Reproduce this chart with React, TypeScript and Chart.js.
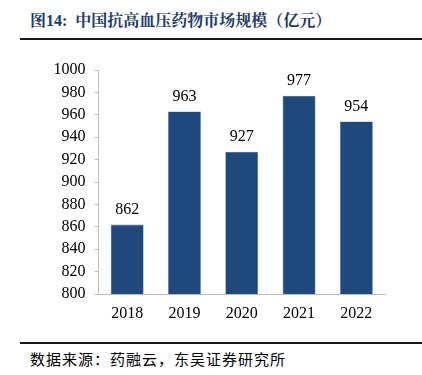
import React, { useEffect, useRef } from "react";
import { Chart, registerables } from "chart.js";

Chart.register(...registerables);

const categories = ["2018", "2019", "2020", "2021", "2022"];
const marketSize = [862, 963, 927, 977, 954];
const yTicks = [800, 820, 840, 860, 880, 900, 920, 940, 960, 980, 1000];

const titleText = "图14:  中国抗高血压药物市场规模（亿元）";
const sourceText = "数据来源：药融云，东吴证券研究所";

const SERIF = '"Liberation Serif", "Times New Roman", serif';

const valueLabels = {
  id: "valueLabels",
  afterDatasetsDraw(chart: any) {
    const ctx = chart.ctx;
    const meta = chart.getDatasetMeta(0);
    ctx.save();
    ctx.font = `16px ${SERIF}`;
    ctx.fillStyle = "#000000";
    ctx.textAlign = "center";
    ctx.textBaseline = "middle";
    meta.data.forEach((bar: any, i: number) => {
      ctx.fillText(String(chart.data.datasets[0].data[i]), bar.x, bar.y - 15);
    });
    ctx.restore();
  },
};

function BarChart() {
  const ref = useRef<HTMLCanvasElement | null>(null);
  useEffect(() => {
    if (!ref.current) return;
    const chart = new Chart(ref.current, {
      type: "bar",
      data: {
        labels: categories,
        datasets: [
          {
            data: marketSize,
            backgroundColor: "#1f497d",
            borderColor: "#5a7aa6",
            borderWidth: 0.6,
            categoryPercentage: 1,
            barPercentage: 0.575,
          },
        ],
      },
      options: {
        animation: false,
        responsive: false,
        maintainAspectRatio: false,
        layout: { padding: { left: 0, right: 37, top: 20, bottom: 5 } },
        plugins: { legend: { display: false }, tooltip: { enabled: false } },
        scales: {
          x: {
            grid: { display: false, drawTicks: false },
            border: { display: true, color: "#bfbfbf", width: 1 },
            ticks: {
              color: "#000000",
              font: { family: SERIF, size: 16 },
              padding: 10,
            },
            afterFit: (s: any) => {
              s.height = 31;
            },
          },
          y: {
            min: 800,
            max: 1000,
            afterBuildTicks: (s: any) => {
              s.ticks = yTicks.map((v) => ({ value: v }));
            },
            grid: {
              drawOnChartArea: false,
              drawTicks: true,
              tickLength: 4,
              color: "#bfbfbf",
            },
            border: { display: true, color: "#bfbfbf", width: 1 },
            ticks: {
              color: "#000000",
              font: { family: SERIF, size: 16 },
              padding: 9,
              callback: (v: any) => String(v),
            },
            afterFit: (s: any) => {
              s.width = 98.5;
            },
          },
        },
      },
      plugins: [valueLabels],
    });
    return () => chart.destroy();
  }, []);
  return <canvas ref={ref} width={422} height={280} style={{ display: "block", width: 422, height: 280 }} />;
}

export default function App() {
  return (
    <div
      style={{
        position: "absolute",
        left: 0,
        top: 0,
        width: 422,
        height: 375,
        background: "#ffffff",
        overflow: "hidden",
      }}
    >
      <div
        style={{
          position: "absolute",
          left: 30,
          top: 11,
          fontFamily: '"Liberation Serif", "Noto Serif CJK SC", "Noto Sans CJK SC", serif',
          fontWeight: "bold",
          fontSize: 16,
          lineHeight: "20px",
          color: "#1f3a68",
          whiteSpace: "pre",
        }}
      >
        {titleText}
      </div>
      <div
        style={{
          position: "absolute",
          left: 20,
          right: 0,
          top: 38,
          height: 1.5,
          background: "#1a1a1a",
        }}
      />
      <div style={{ position: "absolute", left: 0, top: 50 }}>
        <BarChart />
      </div>
      <div
        style={{
          position: "absolute",
          left: 20,
          right: 0,
          top: 342,
          height: 1.5,
          background: "#1a1a1a",
        }}
      />
      <div
        style={{
          position: "absolute",
          left: 30,
          top: 349,
          fontFamily: '"Noto Sans CJK SC", serif',
          fontSize: 15,
          letterSpacing: 1,
          lineHeight: "20px",
          color: "#000000",
          whiteSpace: "pre",
        }}
      >
        {sourceText}
      </div>
    </div>
  );
}
